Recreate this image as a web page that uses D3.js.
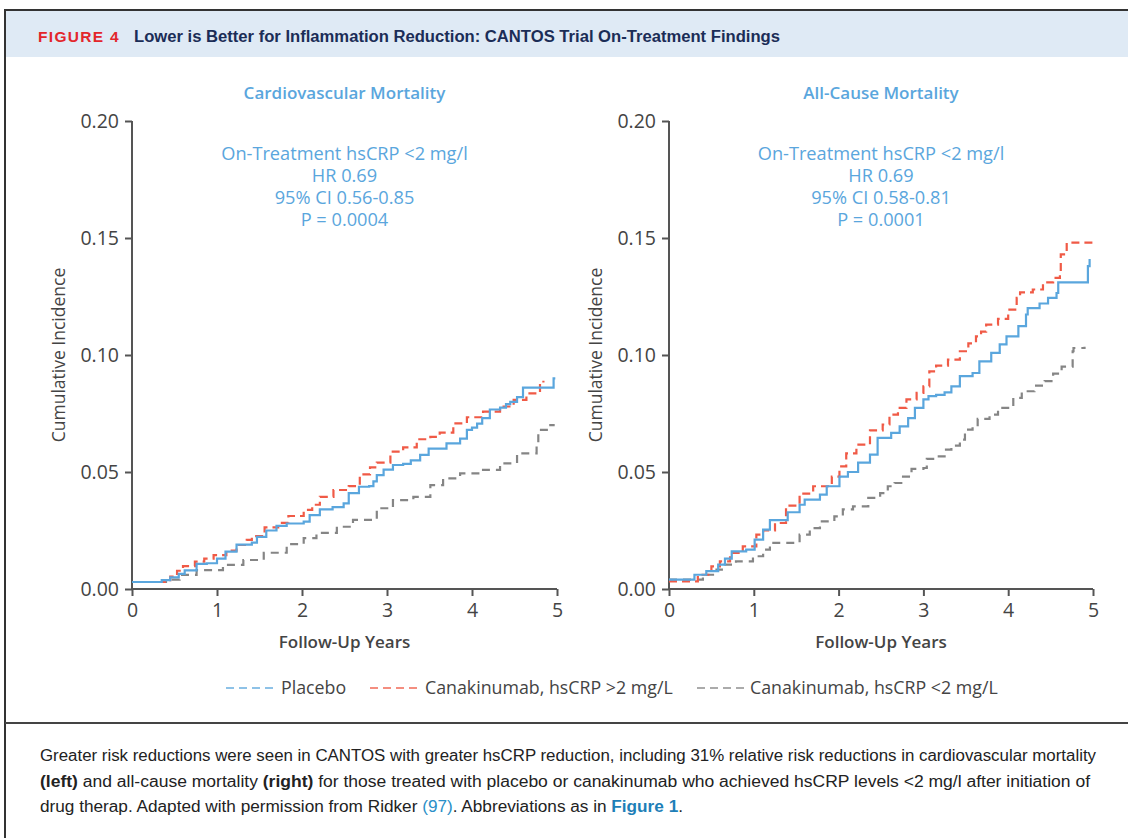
<!DOCTYPE html>
<html>
<head>
<meta charset="utf-8">
<script src="https://cdn.jsdelivr.net/npm/d3@7"></script>
<style>
  html, body { margin: 0; padding: 0; background: #fff; }
  svg { display: block; }
</style>
</head>
<body>
<svg id="chart" width="1128" height="838"></svg>
<script>
// ---------------- DATA ----------------
const xTicks = [0, 1, 2, 3, 4, 5];
const yTicks = [0.00, 0.05, 0.10, 0.15, 0.20];
const yTickLabels = ["0.00", "0.05", "0.10", "0.15", "0.20"];
const panelTitles = ["Cardiovascular Mortality", "All-Cause Mortality"];
const annotLeft = ["On-Treatment hsCRP <2 mg/l", "HR 0.69", "95% CI 0.56-0.85", "P = 0.0004"];
const annotRight = ["On-Treatment hsCRP <2 mg/l", "HR 0.69", "95% CI 0.58-0.81", "P = 0.0001"];
const seriesNames = ["Placebo", "Canakinumab, hsCRP >2 mg/L", "Canakinumab, hsCRP <2 mg/L"];

// Cardiovascular mortality (left) — step points [years, cumulative incidence]
const cvPlaceboT = [0, 0.35, 0.45, 0.55, 0.62, 0.76, 0.88, 1.0, 1.1, 1.23, 1.41, 1.47, 1.58, 1.70, 1.82, 2.02, 2.09, 2.21, 2.36, 2.49, 2.55, 2.67, 2.79, 2.84, 2.88, 2.96, 3.07, 3.19, 3.28, 3.39, 3.49, 3.64, 3.70, 3.86, 3.94, 4.00, 4.06, 4.12, 4.21, 4.33, 4.40, 4.45, 4.53, 4.60, 4.94, 4.96, 4.98];
const cvPlaceboV = [0.003, 0.0038, 0.005, 0.0065, 0.008, 0.0107, 0.011, 0.013, 0.016, 0.019, 0.0198, 0.0223, 0.025, 0.027, 0.028, 0.0288, 0.0316, 0.034, 0.035, 0.0366, 0.041, 0.0437, 0.044, 0.046, 0.0487, 0.051, 0.053, 0.0535, 0.055, 0.0573, 0.060, 0.060, 0.0622, 0.0643, 0.068, 0.069, 0.0707, 0.073, 0.0767, 0.0775, 0.079, 0.080, 0.082, 0.0861, 0.0861, 0.090, 0.090];

const cvHighT = [0, 0.42, 0.45, 0.53, 0.60, 0.74, 0.85, 0.96, 1.11, 1.23, 1.35, 1.41, 1.56, 1.72, 1.84, 2.02, 2.12, 2.21, 2.37, 2.55, 2.68, 2.80, 2.88, 3.04, 3.19, 3.35, 3.51, 3.62, 3.78, 3.94, 4.13, 4.33, 4.49, 4.64, 4.80, 4.84];
const cvHighV = [0.003, 0.003, 0.0053, 0.0078, 0.0098, 0.0117, 0.013, 0.0145, 0.0164, 0.0188, 0.021, 0.0226, 0.0263, 0.0283, 0.0312, 0.0338, 0.036, 0.0394, 0.0423, 0.044, 0.049, 0.052, 0.054, 0.0587, 0.0605, 0.064, 0.065, 0.0668, 0.0708, 0.0734, 0.0758, 0.078, 0.0808, 0.0836, 0.088, 0.089];

const cvLowT = [0, 0.40, 0.56, 0.76, 1.07, 1.31, 1.55, 1.82, 2.02, 2.17, 2.41, 2.60, 2.88, 3.07, 3.31, 3.51, 3.66, 3.86, 4.13, 4.33, 4.53, 4.76, 4.78, 4.90, 4.96];
const cvLowV = [0.003, 0.004, 0.006, 0.0081, 0.0103, 0.0124, 0.0155, 0.0192, 0.0217, 0.024, 0.0266, 0.0295, 0.0345, 0.038, 0.0394, 0.0444, 0.0473, 0.0494, 0.0509, 0.0537, 0.058, 0.0615, 0.068, 0.070, 0.0705];

// All-cause mortality (right)
const acPlaceboT = [0, 0.30, 0.44, 0.58, 0.66, 0.74, 0.91, 1.01, 1.11, 1.19, 1.38, 1.40, 1.54, 1.60, 1.78, 1.86, 2.01, 2.11, 2.23, 2.37, 2.46, 2.62, 2.72, 2.82, 2.90, 3.00, 3.06, 3.15, 3.25, 3.33, 3.43, 3.58, 3.66, 3.80, 3.90, 3.98, 4.12, 4.21, 4.23, 4.37, 4.47, 4.57, 4.59, 4.94, 4.96];
const acPlaceboV = [0.004, 0.0061, 0.0076, 0.0104, 0.013, 0.0161, 0.0168, 0.0211, 0.0254, 0.0294, 0.0294, 0.0328, 0.036, 0.0382, 0.0403, 0.0439, 0.048, 0.050, 0.054, 0.0574, 0.0646, 0.0667, 0.0695, 0.073, 0.0774, 0.081, 0.0824, 0.083, 0.084, 0.0866, 0.091, 0.0923, 0.0973, 0.1009, 0.1045, 0.108, 0.1123, 0.1173, 0.120, 0.122, 0.1244, 0.1265, 0.131, 0.138, 0.141];

const acHighT = [0, 0.34, 0.50, 0.60, 0.72, 0.87, 1.03, 1.11, 1.25, 1.38, 1.54, 1.70, 1.92, 2.01, 2.09, 2.21, 2.37, 2.52, 2.60, 2.70, 2.80, 2.92, 3.00, 3.07, 3.15, 3.29, 3.43, 3.53, 3.62, 3.68, 3.74, 3.88, 4.00, 4.10, 4.14, 4.29, 4.41, 4.53, 4.61, 4.62, 4.69, 4.98];
const acHighV = [0.0033, 0.0061, 0.0097, 0.0118, 0.0154, 0.0182, 0.0232, 0.025, 0.0282, 0.0356, 0.0408, 0.0439, 0.048, 0.0524, 0.058, 0.0617, 0.0678, 0.0703, 0.0745, 0.0774, 0.081, 0.0838, 0.0866, 0.093, 0.0955, 0.098, 0.1016, 0.105, 0.108, 0.110, 0.113, 0.1154, 0.1194, 0.1244, 0.1268, 0.128, 0.131, 0.133, 0.135, 0.143, 0.148, 0.1486];

const acLowT = [0, 0.35, 0.40, 0.56, 0.66, 0.79, 0.99, 1.11, 1.19, 1.46, 1.54, 1.66, 1.78, 1.95, 2.05, 2.17, 2.35, 2.49, 2.58, 2.66, 2.76, 2.86, 3.00, 3.04, 3.15, 3.25, 3.33, 3.43, 3.49, 3.58, 3.64, 3.78, 3.88, 3.96, 4.06, 4.16, 4.31, 4.43, 4.53, 4.63, 4.76, 4.77, 4.90];
const acLowV = [0.004, 0.004, 0.0061, 0.0083, 0.0104, 0.0118, 0.014, 0.0168, 0.0197, 0.0197, 0.0232, 0.026, 0.0289, 0.031, 0.034, 0.0353, 0.0389, 0.041, 0.0439, 0.0453, 0.048, 0.0513, 0.0517, 0.0556, 0.0567, 0.0596, 0.0613, 0.0638, 0.0681, 0.0695, 0.0727, 0.0745, 0.0774, 0.0774, 0.0817, 0.0845, 0.0869, 0.0888, 0.092, 0.095, 0.1016, 0.103, 0.1035];

// ---------------- STYLE ----------------
const BLUE = "#5aa6dd", RED = "#f05a46", GRAY = "#858585";
const AXIS = "#555555", TICKTXT = "#444444";
const FONT = "'Open Sans', 'Noto Sans', sans-serif";

const svg = d3.select("#chart");

// frame & header
svg.append("rect").attr("x", 5).attr("y", 11).attr("width", 1123).attr("height", 46).attr("fill", "#dfeaf5");
svg.append("line").attr("x1", 5).attr("x2", 1128).attr("y1", 10).attr("y2", 10).attr("stroke", "#333").attr("stroke-width", 2);
svg.append("line").attr("x1", 5).attr("x2", 5).attr("y1", 9).attr("y2", 838).attr("stroke", "#333").attr("stroke-width", 2);
svg.append("line").attr("x1", 5).attr("x2", 1128).attr("y1", 723).attr("y2", 723).attr("stroke", "#444").attr("stroke-width", 2);

svg.append("text").attr("x", 38).attr("y", 42)
  .attr("font-family", "'Liberation Sans', Arial, sans-serif").attr("font-weight", "bold")
  .attr("font-size", 14).attr("letter-spacing", 1.2).attr("fill", "#e3262b")
  .attr("textLength", 82).attr("lengthAdjust", "spacingAndGlyphs")
  .text("FIGURE 4");
svg.append("text").attr("x", 134).attr("y", 42)
  .attr("font-family", "'Liberation Sans', Arial, sans-serif").attr("font-weight", "bold")
  .attr("font-size", 16).attr("fill", "#1b2d57")
  .attr("textLength", 646).attr("lengthAdjust", "spacingAndGlyphs")
  .text("Lower is Better for Inflammation Reduction: CANTOS Trial On-Treatment Findings");

// ---------------- PANELS ----------------
const panels = [
  { x0: 132, x1: 557, title: panelTitles[0], annot: annotLeft,
    series: [[cvPlaceboT, cvPlaceboV], [cvHighT, cvHighV], [cvLowT, cvLowV]] },
  { x0: 669, x1: 1093, title: panelTitles[1], annot: annotRight,
    series: [[acPlaceboT, acPlaceboV], [acHighT, acHighV], [acLowT, acLowV]] }
];
const seriesStyle = [
  { color: BLUE, dash: null },
  { color: RED, dash: "8,5" },
  { color: GRAY, dash: "8,6" }
];

const yTop = 121, yBot = 589;

panels.forEach((p) => {
  const x = d3.scaleLinear().domain([0, 5]).range([p.x0, p.x1]);
  const y = d3.scaleLinear().domain([0, 0.20]).range([yBot, yTop]);
  const cx = (p.x0 + p.x1) / 2;
  const g = svg.append("g");

  // axes
  const yAxis = g.append("g").attr("transform", `translate(${p.x0},0)`)
    .call(d3.axisLeft(y).tickValues(yTicks).tickFormat((d, i) => yTickLabels[i]).tickSize(7).tickPadding(6));
  const xAxis = g.append("g").attr("transform", `translate(0,${yBot})`)
    .call(d3.axisBottom(x).tickValues(xTicks).tickFormat(d3.format("d")).tickSize(7).tickPadding(7));
  [yAxis, xAxis].forEach(a => {
    a.select(".domain").attr("stroke", AXIS).attr("stroke-width", 2);
    a.selectAll(".tick line").attr("stroke", AXIS).attr("stroke-width", 2);
    a.selectAll(".tick text").attr("fill", TICKTXT).attr("font-family", FONT).attr("font-size", 19.5);
  });
  yAxis.select(".domain").attr("d", `M0,${yBot}V${yTop}`);
  xAxis.select(".domain").attr("d", `M${p.x0},0H${p.x1}`);

  // axis titles
  g.append("text").attr("x", cx).attr("y", 648).attr("text-anchor", "middle")
    .attr("font-family", FONT).attr("font-weight", 600).attr("font-size", 17).attr("fill", "#444")
    .text("Follow-Up Years");
  g.append("text").attr("transform", `translate(${p.x0 - 67},355) rotate(-90)`).attr("text-anchor", "middle")
    .attr("font-family", FONT).attr("font-size", 17.5).attr("fill", "#444")
    .text("Cumulative Incidence");

  // panel title
  g.append("text").attr("x", cx).attr("y", 99).attr("text-anchor", "middle")
    .attr("font-family", FONT).attr("font-weight", 600).attr("font-size", 17).attr("fill", BLUE)
    .text(p.title);

  // annotation
  p.annot.forEach((s, i) => {
    g.append("text").attr("x", cx).attr("y", 160 + i * 22).attr("text-anchor", "middle")
      .attr("font-family", FONT).attr("font-size", 18.2).attr("fill", BLUE)
      .text(s);
  });

  // curves (draw gray, red, then blue on top)
  const line = d3.line().x(d => x(d[0])).y(d => y(d[1])).curve(d3.curveStepAfter);
  [2, 1, 0].forEach(si => {
    const [T, V] = p.series[si];
    const pts = T.map((t, i) => [t, V[i]]);
    const st = seriesStyle[si];
    g.append("path").attr("d", line(pts)).attr("fill", "none")
      .attr("stroke", st.color).attr("stroke-width", 2.2)
      .attr("stroke-dasharray", st.dash);
  });
});

// ---------------- LEGEND ----------------
const legendItems = [
  { x1: 226, x2: 277, tx: 281, color: BLUE },
  { x1: 370, x2: 419, tx: 425, color: RED },
  { x1: 697, x2: 744, tx: 750, color: GRAY }
];
legendItems.forEach((it, i) => {
  svg.append("line").attr("x1", it.x1).attr("x2", it.x2).attr("y1", 688).attr("y2", 688)
    .attr("stroke", it.color).attr("stroke-width", 1.6).attr("stroke-dasharray", "8,5").attr("opacity", 0.9);
  svg.append("text").attr("x", it.tx).attr("y", 694)
    .attr("font-family", FONT).attr("font-size", 17.8).attr("fill", "#444")
    .text(seriesNames[i]);
});

// ---------------- CAPTION ----------------
const capFont = "'Liberation Sans', Arial, sans-serif";
const cap1 = svg.append("text").attr("x", 40).attr("y", 761).attr("font-family", capFont).attr("font-size", 16).attr("fill", "#222")
  .attr("textLength", 1056).attr("lengthAdjust", "spacingAndGlyphs");
cap1.text("Greater risk reductions were seen in CANTOS with greater hsCRP reduction, including 31% relative risk reductions in cardiovascular mortality");

const cap2 = svg.append("text").attr("x", 40).attr("y", 787).attr("font-family", capFont).attr("font-size", 16).attr("fill", "#222")
  .attr("textLength", 1050).attr("lengthAdjust", "spacingAndGlyphs");
cap2.append("tspan").attr("font-weight", "bold").text("(left)");
cap2.append("tspan").text(" and all-cause mortality ");
cap2.append("tspan").attr("font-weight", "bold").text("(right)");
cap2.append("tspan").text(" for those treated with placebo or canakinumab who achieved hsCRP levels <2 mg/l after initiation of");

const cap3 = svg.append("text").attr("x", 40).attr("y", 812).attr("font-family", capFont).attr("font-size", 16).attr("fill", "#222")
  .attr("textLength", 643).attr("lengthAdjust", "spacingAndGlyphs");
cap3.append("tspan").text("drug therap. Adapted with permission from Ridker ");
cap3.append("tspan").attr("fill", "#2a8fc8").text("(97)");
cap3.append("tspan").text(". Abbreviations as in ");
cap3.append("tspan").attr("fill", "#1e7fb8").attr("font-weight", "bold").text("Figure 1");
cap3.append("tspan").text(".");
</script>
</body>
</html>
